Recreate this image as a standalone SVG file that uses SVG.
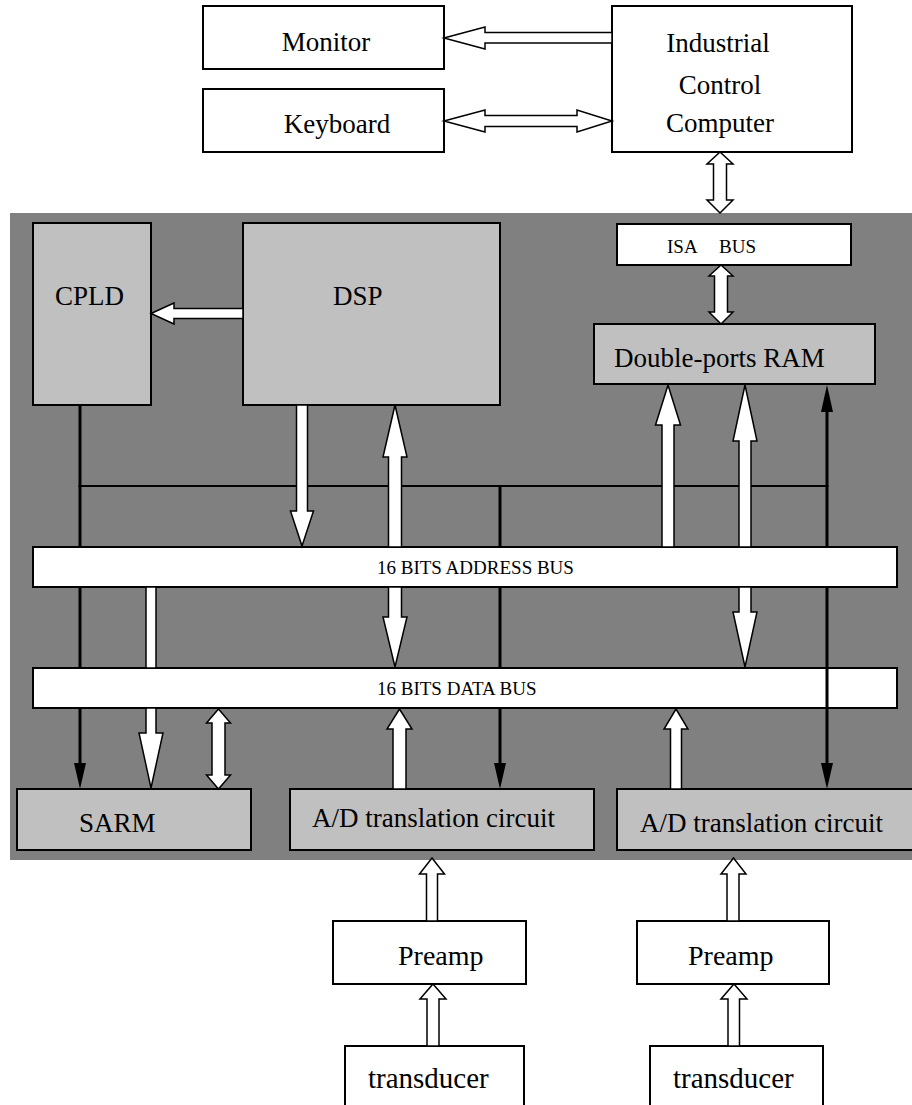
<svg xmlns="http://www.w3.org/2000/svg" width="912" height="1105" viewBox="0 0 912 1105">
<style>
.box{fill:#fff;stroke:#000;stroke-width:2}
.gbox{fill:#c0c0c0;stroke:#000;stroke-width:2}
.bus{fill:#fff;stroke:#000;stroke-width:2}
.t{font-family:"Liberation Serif","Times New Roman",serif;font-size:27px;fill:#000}
.ts{font-family:"Liberation Serif","Times New Roman",serif;font-size:19px;fill:#000}
.wa{fill:#fff;stroke:#000;stroke-width:1.5;stroke-linejoin:miter}
.bl{stroke:#000;stroke-width:3;fill:none}
.hl{stroke:#000;stroke-width:2;fill:none}
.bh{fill:#000;stroke:none}
</style>
<rect id="board" x="10" y="213" width="910" height="647" fill="#808080"/>

<g id="monitor"><rect class="box" x="203" y="6" width="241" height="63"/><text class="t" x="326" y="51" text-anchor="middle">Monitor</text></g>
<g id="keyboard"><rect class="box" x="203" y="89" width="241" height="63"/><text class="t" x="337" y="133" text-anchor="middle">Keyboard</text></g>
<g id="icc"><rect class="box" x="612" y="6" width="240" height="146"/>
<text class="t" x="718" y="52" text-anchor="middle">Industrial</text>
<text class="t" x="720" y="94" text-anchor="middle">Control</text>
<text class="t" x="720" y="132" text-anchor="middle">Computer</text></g>
<g id="isa"><rect class="bus" x="617" y="224" width="234" height="41"/><text class="ts" x="667" y="253">ISA</text><text class="ts" x="719" y="253">BUS</text></g>
<g id="dpram"><rect class="gbox" x="594" y="324" width="281" height="60"/><text class="t" x="614" y="367">Double-ports RAM</text></g>
<g id="cpld"><rect class="gbox" x="33" y="223" width="118" height="182"/><text class="t" x="55" y="305">CPLD</text></g>
<g id="dsp"><rect class="gbox" x="243" y="223" width="257" height="182"/><text class="t" x="333" y="305">DSP</text></g>
<g id="addrbus"><rect class="bus" x="33" y="547" width="864" height="40"/><text class="ts" x="377" y="574">16 BITS ADDRESS BUS</text></g>
<g id="databus"><rect class="bus" x="33" y="668" width="864" height="40"/><text class="ts" x="377" y="695">16 BITS DATA BUS</text></g>
<g id="sarm"><rect class="gbox" x="17" y="789" width="234" height="61"/><text class="t" x="79" y="832">SARM</text></g>
<g id="ad1"><rect class="gbox" x="290" y="789" width="304" height="61"/><text class="t" x="312" y="827">A/D translation circuit</text></g>
<g id="ad2"><rect class="gbox" x="617" y="789" width="300" height="61"/><text class="t" x="640" y="832">A/D translation circuit</text></g>
<g id="preamp1"><rect class="box" x="333" y="921" width="193" height="63"/><text class="t" x="398" y="965" style="font-size:28px">Preamp</text></g>
<g id="preamp2"><rect class="box" x="637" y="921" width="192" height="63"/><text class="t" x="688" y="965" style="font-size:28px">Preamp</text></g>
<g id="transducer1"><rect class="box" x="345" y="1046" width="179" height="80"/><text class="t" x="368" y="1088" style="font-size:29px">transducer</text></g>
<g id="transducer2"><rect class="box" x="650" y="1046" width="173" height="80"/><text class="t" x="673" y="1088" style="font-size:29px">transducer</text></g>

<g id="connectors">
<line class="hl" x1="78.5" y1="486" x2="828.5" y2="486"/>
<line class="bl" x1="80" y1="405" x2="80" y2="547"/>
<line class="bl" x1="80" y1="587" x2="80" y2="668"/>
<line class="bl" x1="80" y1="708" x2="80" y2="765"/>
<polygon class="bh" points="74,763 86,763 80,789"/>
<line class="bl" x1="500" y1="485" x2="500" y2="547"/>
<line class="bl" x1="500" y1="587" x2="500" y2="668"/>
<line class="bl" x1="500" y1="708" x2="500" y2="765"/>
<polygon class="bh" points="494,763 506,763 500,789"/>
<line class="bl" x1="827" y1="410" x2="827" y2="547"/>
<line class="bl" x1="827" y1="587" x2="827" y2="765"/>
<polygon class="bh" points="821,412 833,412 827,385"/>
<polygon class="bh" points="821,763 833,763 827,789"/>

<polygon class="wa" points="444,38 485,27 485,32.5 612,32.5 612,43 485,43 485,49"/>
<polygon class="wa" points="444,121 485,110 485,115.5 577,115.5 577,110 612,121 577,132 577,126.5 485,126.5 485,132"/>
<polygon class="wa" points="720,152 733,164 726.5,164 726.5,200 733,200 720,213 707,200 713.5,200 713.5,164 707,164"/>
<polygon class="wa" points="721,265 733,276 727.5,276 727.5,312 733,312 721,324 709,312 714.5,312 714.5,276 709,276"/>
<polygon class="wa" points="151,313.5 174,303 174,308.5 243,308.5 243,318.5 174,318.5 174,324"/>
<polygon class="wa" points="302,546 313.5,511 307.5,511 307.5,405 296.5,405 296.5,511 290.5,511"/>
<polygon class="wa" points="395,405 407,457 401.5,457 401.5,547 388.5,547 388.5,457 383,457"/>
<polygon class="wa" points="395,667 407,617 401.5,617 401.5,587 388.5,587 388.5,617 383,617"/>
<polygon class="wa" points="668,385 680.5,425 674,425 674,547 662,547 662,425 655.5,425"/>
<polygon class="wa" points="745,385 757,441 751,441 751,547 739,547 739,441 733,441"/>
<polygon class="wa" points="745,667 757,612 751,612 751,587 739,587 739,612 733,612"/>
<polygon class="wa" points="146,587 156,587 156,668 146,668"/>
<polygon class="wa" points="151,788 163,733 156,733 156,708 146,708 146,733 139,733"/>
<polygon class="wa" points="218.5,709 230.5,723 225,723 225,775 230.5,775 218.5,789 206.5,775 212,775 212,723 206.5,723"/>
<polygon class="wa" points="399.5,709 412,729 406,729 406,789 393,789 393,729 387,729"/>
<polygon class="wa" points="676,709 688,729 681.5,729 681.5,789 670.5,789 670.5,729 664,729"/>
<polygon class="wa" points="432,858 444.5,874 437.5,874 437.5,921 426.5,921 426.5,874 419.5,874"/>
<polygon class="wa" points="433,984 446,999 439,999 439,1046 427,1046 427,999 420,999"/>
<polygon class="wa" points="733.5,858 746,874 739,874 739,921 727,921 727,874 721,874"/>
<polygon class="wa" points="734,984 747,999 739.5,999 739.5,1046 728,1046 728,999 721,999"/>
</g>
</svg>
